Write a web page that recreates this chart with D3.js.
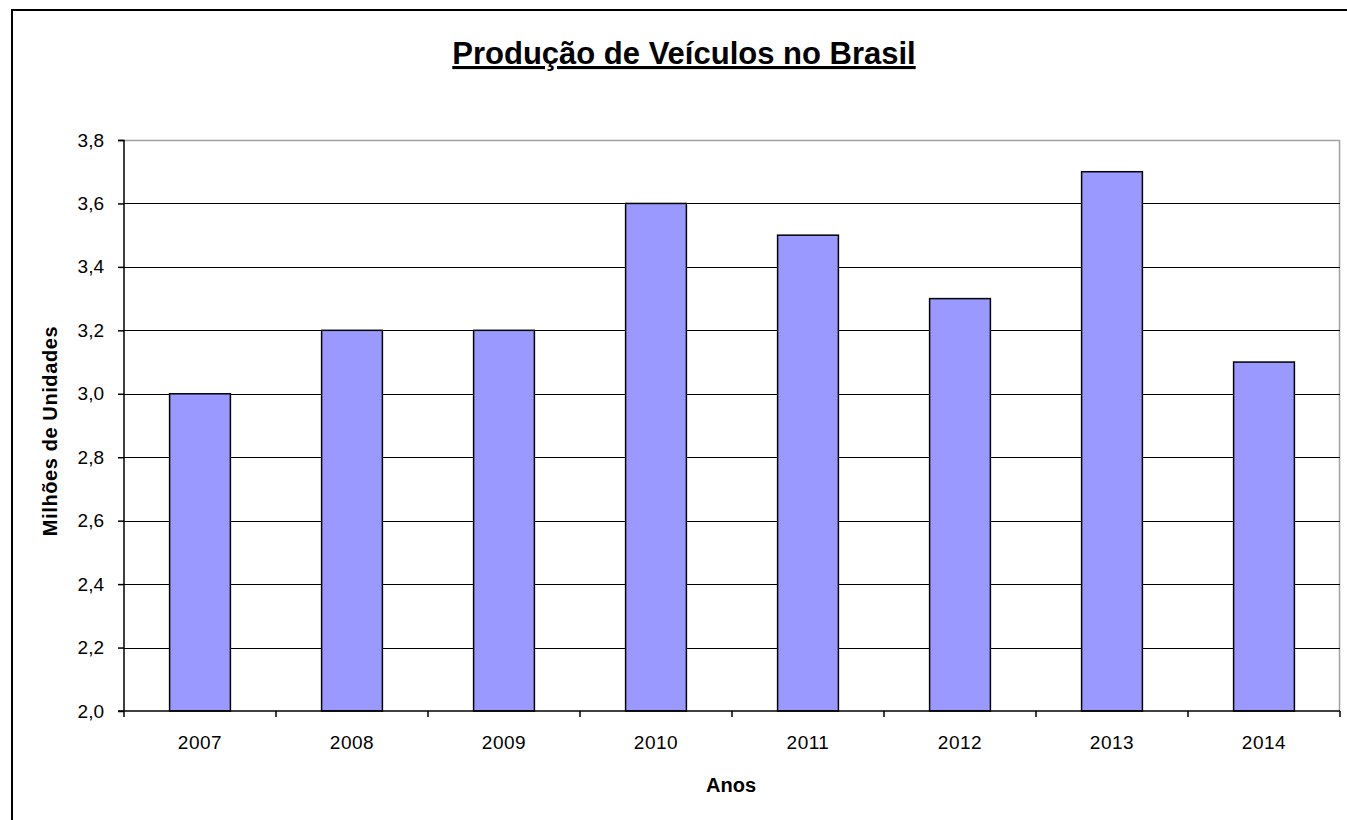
<!DOCTYPE html>
<html>
<head>
<meta charset="utf-8">
<script src="https://cdn.jsdelivr.net/npm/d3@7"></script>
<style>
  body { margin: 0; background: #fff; }
  svg { font-family: "Liberation Sans", Arial, sans-serif; }
</style>
</head>
<body>
<svg width="1347" height="820"></svg>
<script>
var years = ["2007", "2008", "2009", "2010", "2011", "2012", "2013", "2014"];
var production = [3.0, 3.2, 3.2, 3.6, 3.5, 3.3, 3.7, 3.1];
var yTicks = [2.0, 2.2, 2.4, 2.6, 2.8, 3.0, 3.2, 3.4, 3.6, 3.8];

var svg = d3.select("svg"),
	margin = {top: 140, right: 7, bottom: 109, left: 124},
	width = 1347 - margin.left - margin.right,
	height = 820 - margin.top - margin.bottom;

// outer chart frame
svg.append("rect")
	.attr("x", 12).attr("y", 10)
	.attr("width", 1347).attr("height", 820)
	.attr("fill", "none")
	.attr("stroke", "#000")
	.attr("stroke-width", 2);

var x = d3.scaleBand().domain(years).range([0, width]).paddingInner(0.6).paddingOuter(0.3);
var xb = d3.scaleBand().domain(years).range([0, width]);
var y = d3.scaleLinear().domain([2.0, 3.8]).range([height, 0]);
var fmt = function(d){ return d3.format(".1f")(d).replace(".", ","); };

var g = svg.append("g")
	.attr("transform", "translate(" + margin.left + "," + margin.top + ")");

// plot area border (grey top/right)
g.append("path")
	.attr("d", "M0,0.5H" + (width - 0.5) + "V" + height)
	.attr("fill", "none")
	.attr("stroke", "#a0a0a0")
	.attr("stroke-width", 1.5);

// gridlines
g.selectAll(".grid")
	.data(yTicks.slice(1, -1))
	.enter().append("line")
	.attr("x1", 0).attr("x2", width)
	.attr("y1", function(d){ return Math.round(y(d)) + 0.5; })
	.attr("y2", function(d){ return Math.round(y(d)) + 0.5; })
	.attr("stroke", "#000")
	.attr("stroke-width", 1);

// bars
g.selectAll(".bar")
	.data(production)
	.enter().append("rect")
	.attr("class", "bar")
	.attr("x", function(d, i){ return x(years[i]); })
	.attr("y", function(d){ return y(d); })
	.attr("width", x.bandwidth())
	.attr("height", function(d){ return height - y(d); })
	.attr("fill", "#9999ff")
	.attr("stroke", "#000")
	.attr("stroke-width", 1.5);

// y axis
var yAxis = g.append("g")
	.call(d3.axisLeft(y).tickValues(yTicks).tickFormat(fmt).tickSize(6).tickPadding(14));
yAxis.select(".domain").attr("stroke", "#000").attr("stroke-width", 1.5).attr("d", "M-6,0.5H0V" + height);
yAxis.selectAll(".tick line").attr("stroke-width", 1.5);
yAxis.selectAll("text")
	.attr("font-size", 19)
	.attr("fill", "#000")
	.attr("font-family", "Liberation Sans, Arial, sans-serif");

// x axis
var xAxis = g.append("g")
	.attr("transform", "translate(0," + height + ")");
xAxis.append("line")
	.attr("x1", -6).attr("x2", width)
	.attr("stroke", "#000").attr("stroke-width", 1.5);
xAxis.selectAll(".xt")
	.data(years.concat(["end"]))
	.enter().append("line")
	.attr("x1", function(d, i){ return i * xb.step(); })
	.attr("x2", function(d, i){ return i * xb.step(); })
	.attr("y1", 0).attr("y2", 6)
	.attr("stroke", "#000").attr("stroke-width", 1.5);
xAxis.selectAll(".xl")
	.data(years)
	.enter().append("text")
	.attr("x", function(d){ return xb(d) + xb.bandwidth() / 2; })
	.attr("y", 38)
	.attr("text-anchor", "middle")
	.attr("font-size", 19)
	.attr("letter-spacing", 0.5)
	.text(function(d){ return d; });

// titles
svg.append("text")
	.attr("x", 684).attr("y", 64)
	.attr("text-anchor", "middle")
	.attr("font-size", 31)
	.attr("font-weight", "bold")
	.attr("text-decoration", "underline")
	.text("Produção de Veículos no Brasil");

svg.append("text")
	.attr("x", 731).attr("y", 792)
	.attr("text-anchor", "middle")
	.attr("font-size", 20)
	.attr("font-weight", "bold")
	.text("Anos");

svg.append("text")
	.attr("transform", "translate(57," + 431 + ") rotate(-90)")
	.attr("text-anchor", "middle")
	.attr("font-size", 20)
	.attr("font-weight", "bold")
	.attr("letter-spacing", 0.6)
	.text("Milhões de Unidades");
</script>
</body>
</html>
